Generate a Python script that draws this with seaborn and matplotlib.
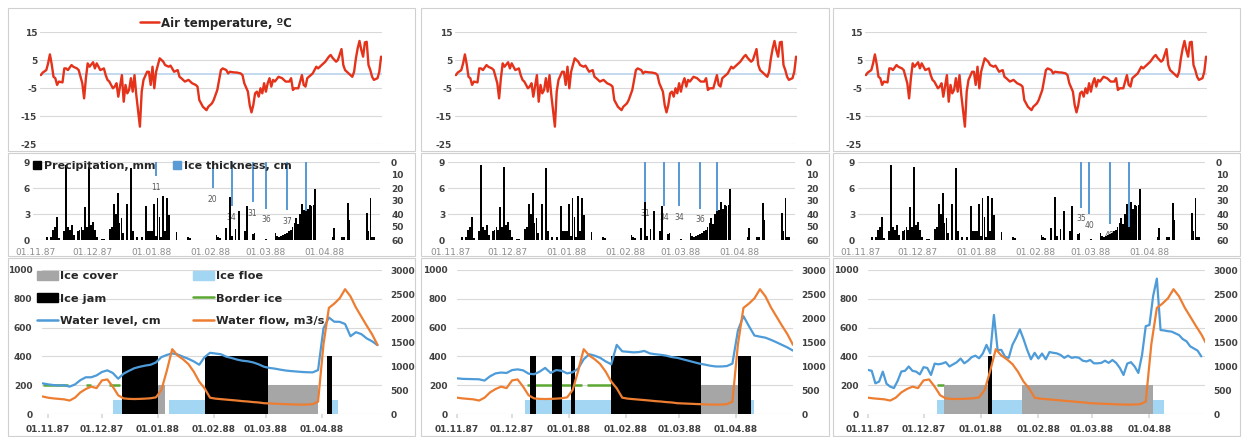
import numpy as np
import pandas as pd
import matplotlib
matplotlib.use("Agg")
import matplotlib.pyplot as plt
import matplotlib.dates as mdates
from matplotlib.patches import Rectangle, Patch
from matplotlib.lines import Line2D
import seaborn as sns

# ======================= DATA =======================
START = "1987-11-01"          # day 0 of all day offsets below
month_ticks = ["01.11.87", "01.12.87", "01.01.88", "01.02.88", "01.03.88", "01.04.88"]

# Air temperature (same in all three panels): day offset, degC
temp_day = [-4, -3, -1, 0, 1, 2, 3, 4, 5, 6, 8, 9, 10, 11, 13, 14, 16, 17, 19, 20,
            21, 22, 23, 25, 26, 27, 28, 29, 31, 32, 33, 34, 36, 37, 38, 39, 41, 42, 43, 44,
            45, 46, 47, 48, 49, 51, 52, 53, 55, 56, 57, 58, 59, 60, 61, 62, 64, 65, 67, 68,
            70, 72, 73, 74, 76, 78, 80, 82, 83, 84, 86, 88, 89, 91, 92, 94, 96, 97, 99, 100,
            101, 103, 105, 107, 108, 109, 111, 112, 113, 114, 115, 116, 117, 118, 119, 120, 121, 122, 123, 124,
            125, 126, 128, 130, 132, 134, 135, 136, 137, 139, 141, 142, 143, 144, 146, 147, 148, 149, 150, 152,
            154, 156, 157, 158, 160, 161, 163, 164, 165, 166, 167, 169, 170, 171, 172, 173, 174, 175, 176, 177,
            178, 179, 180, 181, 183, 184, 185]
temp_c = [-0.4, 0.5, 1.4, 3.8, 7.0, 3.5, -1.0, -1.5, -3.9, -2.7, -3.0, 2.0, 2.0, 1.4, 3.2, 2.6, 2.0, 1.4, -3.3, -8.7,
          -1.5, 3.8, 2.6, 4.2, 2.0, 3.8, 2.6, 1.4, 2.0, -0.4, -2.1, -2.7, -5.1, -4.5, -3.3, -8.1, -0.4, -9.9, -3.9, -6.9,
          -5.7, -1.5, -6.3, -0.4, -7.5, -18.8, -6.3, -2.1, 0.8, 0.8, -3.9, 2.6, -5.1, 0.8, 3.2, 5.6, 4.4, 3.2, 2.6, 3.0,
          0.8, 1.4, -1.0, -1.5, -2.7, -2.1, -3.3, -3.9, -4.5, -9.3, -11.7, -12.9, -11.7, -10.5, -9.3, -5.7, 1.4, 2.0, 1.4, 0.2,
          0.8, 0.6, 0.5, 0.2, -0.4, -3.3, -6.3, -11.1, -13.7, -11.1, -6.9, -6.3, -8.1, -5.1, -6.9, -3.3, -6.3, -3.3, -1.5, -4.5,
          -2.1, -2.7, -1.0, -1.5, -2.7, -2.7, -1.5, -5.7, -5.1, -5.1, -0.4, -3.9, -4.5, -1.5, -0.4, 0.2, 1.4, 2.6, 2.0, 3.2,
          4.4, 6.2, 6.8, 5.8, 4.4, 5.0, 8.9, 3.2, 1.4, 0.8, 0.2, -1.0, 0.8, 5.6, 9.2, 11.8, 8.6, 6.2, 11.3, 11.5,
          3.2, 1.4, -1.0, -2.1, -1.5, 0.8, 6.2]

# Precipitation (same in all panels): day offset, mm
precip_day = [6, 8, 9, 10, 11, 12, 15, 16, 17, 18, 19, 20, 22, 23, 24, 25, 26, 27, 28, 29,
              30, 31, 32, 35, 36, 39, 40, 41, 42, 43, 44, 45, 46, 48, 50, 51, 53, 56, 58, 59,
              60, 61, 62, 63, 64, 65, 66, 67, 68, 69, 70, 74, 80, 81, 95, 96, 97, 100, 102, 103,
              105, 107, 110, 111, 114, 115, 121, 126, 127, 128, 129, 130, 131, 132, 133, 134, 135, 136, 137, 138,
              139, 140, 141, 142, 143, 144, 145, 146, 147, 156, 157, 161, 162, 164, 165, 174, 175, 176, 177, 178]
precip_mm = [0.3, 0.4, 1.2, 1.5, 2.7, 0.2, 1.0, 8.6, 1.5, 1.2, 1.7, 0.6, 1.0, 1.2, 1.5, 1.2, 3.8, 1.5, 8.4, 1.7,
             2.1, 1.2, 0.3, 0.1, 0.1, 1.3, 1.5, 4.1, 3.0, 5.4, 2.0, 2.5, 0.8, 4.2, 8.3, 1.0, 0.3, 0.3, 3.9, 1.0,
             1.0, 1.0, 4.1, 0.5, 4.9, 2.6, 0.4, 5.1, 1.0, 4.8, 2.9, 0.9, 0.3, 0.2, 0.6, 0.4, 0.2, 1.4, 5.0, 0.5,
             1.3, 3.4, 1.0, 3.9, 0.7, 0.8, 0.1, 0.8, 0.5, 0.3, 0.5, 0.6, 0.7, 0.8, 1.0, 1.2, 1.5, 2.0, 2.5, 1.8,
             3.0, 4.2, 3.5, 4.4, 3.6, 4.0, 3.9, 4.0, 5.9, 0.3, 1.4, 0.4, 0.4, 4.3, 2.3, 3.1, 1.0, 4.8, 0.4, 0.3]

# Ice thickness per panel
ice_dates = [["03.01.88", "02.02.88", "12.02.88", "23.02.88", "01.03.88", "12.03.88", "22.03.88"],
             ["11.02.88", "21.02.88", "29.02.88", "11.03.88", "20.03.88"],
             ["25.02.88", "29.02.88", "11.03.88", "21.03.88"]]
ice_cm = [[11, 20, 34, 31, 36, 37, 38],
          [31, 34, 34, 36, 38],
          [35, 40, 48, 50]]

# Water flow (same in all panels), every 3 days from day -3
flow_first_day, flow_step = -3, 3
flow_m3s = [365, 340, 325, 315, 305, 280, 340, 450, 520, 570, 540, 700, 720, 570, 390, 325, 315, 312, 315, 320,
            328, 347, 500, 900, 1350, 1220, 1140, 1040, 880, 675, 535, 340, 320, 310, 300, 290, 280, 268, 260, 248,
            240, 225, 220, 215, 210, 205, 200, 197, 195, 198, 205, 257, 1450, 2210, 2300, 2410, 2600, 2450, 2220, 2030,
            1840, 1660, 1440]

# Water level per panel
level_first_day = [-3, -3, 0]
level_step = [3, 3, 2]
level_cm = [
    [213, 206, 201, 198, 200, 190, 205, 235, 255, 255, 268, 292, 303, 285, 245, 280, 300, 318, 328, 336,
     342, 358, 395, 410, 421, 413, 398, 383, 365, 342, 395, 425, 420, 415, 398, 389, 378, 370, 366, 358,
     345, 328, 320, 315, 308, 302, 298, 295, 292, 290, 289, 305, 595, 670, 641, 640, 625, 540, 568, 555,
     525, 505, 478],
    [250, 248, 244, 243, 242, 241, 232, 262, 282, 288, 285, 305, 310, 303, 280, 276, 294, 320, 285, 305,
     300, 282, 290, 315, 380, 415, 405, 390, 365, 345, 480, 435, 432, 428, 430, 438, 421, 415, 411, 405,
     395, 390, 380, 370, 360, 350, 343, 335, 330, 330, 333, 350, 580, 680, 610, 545, 537, 530, 515, 498,
     480, 462, 440],
    [306, 300, 213, 225, 294, 210, 190, 180, 230, 295, 300, 330, 300, 294, 275, 325, 320, 271, 350, 345,
     350, 360, 330, 345, 360, 385, 352, 370, 395, 405, 387, 420, 480, 421, 688, 444, 445, 398, 390, 480,
     530, 588, 520, 444, 380, 425, 385, 420, 380, 430, 425, 421, 410, 390, 405, 390, 395, 390, 370, 365,
     375, 352, 352, 355, 370, 355, 375, 355, 320, 271, 350, 360, 330, 285, 410, 610, 618, 820, 940, 583,
     580, 575, 572, 560, 548, 520, 505, 470, 455, 440, 400]]

# Ice phenomena (start, end) per panel, and the series value used for each
ice_cover_level, ice_floe_level, ice_jam_level, border_ice_level = 200, 100, 400, 200
ice_floe = [[("07.12.87", "12.12.87"), ("07.01.88", "27.01.88"), ("04.04.88", "10.04.88")],
            [("08.12.87", "24.01.88"), ("02.04.88", "11.04.88")],
            [("08.12.87", "12.12.87"), ("07.01.88", "23.01.88"), ("03.04.88", "09.04.88")]]
ice_cover = [[("01.01.88", "05.01.88"), ("02.03.88", "30.03.88")],
             [("13.03.88", "02.04.88")],
             [("12.12.87", "05.01.88"), ("23.01.88", "03.04.88")]]
ice_jam = [[("12.12.87", "01.01.88"), ("27.01.88", "02.03.88"), ("04.04.88", "07.04.88")],
           [("11.12.87", "14.12.87"), ("23.12.87", "28.12.87"), ("02.01.88", "04.01.88"),
            ("24.01.88", "13.03.88"), ("02.04.88", "09.04.88")],
           [("05.01.88", "07.01.88")]]
border_ice = [[("29.10.87", "12.11.87"), ("22.11.87", "25.11.87"), ("05.12.87", "11.12.87")],
              [("09.12.87", "08.01.88"), ("11.01.88", "24.01.88")],
              [("08.12.87", "12.12.87")]]

# ======================= STYLE / LAYOUT =======================
sns.set_theme(style="white")
plt.rcParams["font.family"] = ["DejaVu Sans"]
plt.rcParams["axes.unicode_minus"] = False

W, H = 1245, 437
fig = plt.figure(figsize=(W / 100, H / 100), dpi=100)

RED = "#e4321b"
BLUE = "#4d9bd8"
ORANGE = "#ed7d31"
GREEN = "#5aa832"
GRAY = "#a6a6a6"
FLOE = "#a3d6f3"
ICEB = "#5b9bd5"
GRID = "#d9d9d9"
TXT = "#404040"

t0 = pd.Timestamp(START)
n0 = mdates.date2num(t0)


def px(l, r, t, b):
    return [l / W, 1 - b / H, (r - l) / W, (b - t) / H]


def to_dates(offsets):
    return t0 + pd.to_timedelta(np.asarray(offsets, dtype=float), unit="D")


def pdate(s):
    return pd.to_datetime(s, format="%d.%m.%y")


def style_ticks(ax, size=6.5, weight="bold", color=TXT):
    for lab in ax.get_xticklabels() + ax.get_yticklabels():
        lab.set_fontsize(size)
        lab.set_fontweight(weight)
        lab.set_color(color)


def clean(ax):
    for s in ax.spines.values():
        s.set_visible(False)


# frames of the chart boxes
col_box = [(8, 415), (421, 829), (833, 1240)]
row_box = [(8, 151), (153, 256), (258, 436)]
for (bl, br) in col_box:
    for (bt, bb) in row_box:
        fig.add_artist(Rectangle((bl / W, 1 - bb / H), (br - bl) / W, (bb - bt) / H,
                                 transform=fig.transFigure, fill=False, ec="#d0d0d0", lw=0.8))

top_x = [(40, 382), (455, 797), (865, 1207)]
prc_x = [(33, 380), (448, 795), (858, 1205)]
bot_x = [(42, 382), (457, 793), (868, 1205)]
top_xlim = [(-4.5, 185.5)] * 3
prc_xlim = (-1.5, 181)
bot_xlim = [(-3.3, 185.5), (0, 183), (0, 182)]

temp_dates = to_dates(temp_day)
precip_dates = to_dates(precip_day)
flow_dates = to_dates(flow_first_day + flow_step * np.arange(len(flow_m3s)))
tick_nums = mdates.date2num(pdate(month_ticks))
date_fmt = mdates.DateFormatter("%d.%m.%y")

for c in range(3):
    # ---------------- air temperature ----------------
    l, r = top_x[c]
    ax_t = fig.add_axes(px(l, r, 32, 144))
    clean(ax_t)
    ax_t.set_xlim(n0 + top_xlim[c][0], n0 + top_xlim[c][1])
    ax_t.set_ylim(-25, 15)
    ax_t.set_yticks([-25, -15, -5, 5, 15])
    ax_t.grid(axis="y", color=GRID, lw=0.8)
    ax_t.grid(axis="x", visible=False)
    ax_t.axhline(0, color="#bdd7ee", lw=1.3, zorder=1)
    sns.lineplot(x=temp_dates, y=temp_c, ax=ax_t, color=RED, linewidth=1.7,
                 estimator=None, sort=False, legend=False, zorder=3)
    ax_t.set_xlim(n0 + top_xlim[c][0], n0 + top_xlim[c][1])
    ax_t.set_xticks([])
    ax_t.set_xlabel("")
    ax_t.set_ylabel("")
    ax_t.tick_params(axis="y", length=0, pad=2)
    style_ticks(ax_t)

    # ---------------- precipitation & ice thickness ----------------
    l, r = prc_x[c]
    ax_p = fig.add_axes(px(l, r, 162, 240))
    ax_p2 = ax_p.twinx()
    for a in (ax_p, ax_p2):
        clean(a)
    ax_p.set_xlim(n0 + prc_xlim[0], n0 + prc_xlim[1])
    ax_p.set_ylim(0, 9)
    ax_p.set_yticks([0, 3, 6, 9])
    ax_p.grid(axis="y", color=GRID, lw=0.8)
    ax_p.grid(axis="x", visible=False)
    ax_p.bar(mdates.date2num(precip_dates), precip_mm, width=0.95, color="black", lw=0, zorder=3)
    ax_p2.set_ylim(60, 0)
    ax_p2.set_yticks(range(0, 61, 10))
    ax_p2.grid(False)
    idates = mdates.date2num(pdate(ice_dates[c]))
    ax_p2.bar(idates, ice_cm[c], width=1.0, bottom=0, color=ICEB, lw=0, zorder=3)
    for xd, v in zip(idates, ice_cm[c]):
        ax_p.annotate(str(v), xy=(xd, v), xycoords=ax_p2.transData, xytext=(0, -11),
                      textcoords="offset pixels", ha="center", va="center",
                      fontsize=5.5, color="#595959", zorder=1)
    ax_p.set_xticks(tick_nums)
    ax_p.xaxis.set_major_formatter(date_fmt)
    ax_p.tick_params(axis="x", length=0, pad=6)
    ax_p.tick_params(axis="y", length=0, pad=2)
    ax_p2.tick_params(axis="y", length=0, pad=8)
    style_ticks(ax_p)
    style_ticks(ax_p2)
    for lab in ax_p.get_xticklabels():
        lab.set_fontweight("normal")
        lab.set_color("#8c8c8c")

    # ---------------- water level / flow / ice phenomena ----------------
    l, r = bot_x[c]
    ax_b = fig.add_axes(px(l, r, 270, 414))
    ax_b2 = ax_b.twinx()
    for a in (ax_b, ax_b2):
        clean(a)
    ax_b.set_xlim(n0 + bot_xlim[c][0], n0 + bot_xlim[c][1])
    ax_b.set_ylim(0, 1000)
    ax_b.set_yticks(range(0, 1001, 200))
    ax_b.grid(axis="y", color=GRID, lw=0.8)
    ax_b.grid(axis="x", visible=False)
    ax_b2.set_ylim(0, 3000)
    ax_b2.set_yticks(range(0, 3001, 500))
    ax_b2.grid(False)

    def spans(ax, intervals, height, color, z):
        for s, e in intervals:
            s0, e0 = mdates.date2num(pdate(s)), mdates.date2num(pdate(e))
            ax.bar(s0, height, width=e0 - s0, align="edge", color=color, lw=0, zorder=z)

    spans(ax_b, ice_floe[c], ice_floe_level, FLOE, 2)
    spans(ax_b, ice_cover[c], ice_cover_level, GRAY, 3)
    spans(ax_b, ice_jam[c], ice_jam_level, "black", 4)
    for s, e in border_ice[c]:
        ax_b.plot([pdate(s), pdate(e)], [border_ice_level, border_ice_level],
                  color=GREEN, lw=1.8, zorder=2.5, solid_capstyle="butt")
    lvl_dates = to_dates(level_first_day[c] + level_step[c] * np.arange(len(level_cm[c])))
    sns.lineplot(x=lvl_dates, y=level_cm[c], ax=ax_b, color=BLUE, linewidth=1.6,
                 estimator=None, sort=False, legend=False, zorder=5)
    sns.lineplot(x=flow_dates, y=flow_m3s, ax=ax_b2, color=ORANGE, linewidth=1.6,
                 estimator=None, sort=False, legend=False, zorder=5)
    ax_b.set_xlim(n0 + bot_xlim[c][0], n0 + bot_xlim[c][1])
    ax_b.set_xlabel("")
    ax_b.set_ylabel("")
    ax_b2.set_ylabel("")
    ax_b.set_xticks(tick_nums)
    ax_b.xaxis.set_major_formatter(date_fmt)
    ax_b.tick_params(axis="x", length=3, color=GRID, pad=5, bottom=True)
    ax_b.tick_params(axis="y", length=0, pad=7)
    ax_b2.tick_params(axis="y", length=0, pad=6)
    style_ticks(ax_b)
    style_ticks(ax_b2)

    if c == 0:
        # legends only in the first column
        fig.legend(handles=[Line2D([], [], color=RED, lw=1.8)],
                   labels=["Air temperature, \u00baC"], loc="center",
                   bbox_to_anchor=(216 / W, 1 - 23 / H), frameon=False,
                   handlelength=1.6, handletextpad=0.2, borderpad=0,
                   prop={"weight": "bold", "size": 8.5})
        fig.legend(handles=[Patch(color="black"), Patch(color=ICEB)],
                   labels=["Precipitation, mm", "Ice thickness, cm"], loc="center left",
                   bbox_to_anchor=(33 / W, 1 - 166 / H), frameon=False, ncol=2,
                   handlelength=0.7, handleheight=0.7, handletextpad=0.3,
                   columnspacing=1.6, borderpad=0, borderaxespad=0,
                   prop={"weight": "bold", "size": 8})
        hs = [Patch(color=GRAY), Patch(color="black"), Line2D([], [], color=BLUE, lw=1.8),
              Patch(color=FLOE), Line2D([], [], color=GREEN, lw=1.8), Line2D([], [], color=ORANGE, lw=1.8)]
        ls = ["Ice cover", "Ice jam", "Water level, cm",
              "Ice floe", "Border ice", "Water flow, m3/s"]
        fig.legend(handles=hs, labels=ls, loc="upper left",
                   bbox_to_anchor=(37 / W, 1 - 271 / H), frameon=False, ncol=2,
                   handlelength=1.8, handleheight=0.8, handletextpad=0.2,
                   columnspacing=2.9, labelspacing=1.05, borderpad=0, borderaxespad=0,
                   prop={"weight": "bold", "size": 8.2})

fig.savefig("out.png", dpi=100)
